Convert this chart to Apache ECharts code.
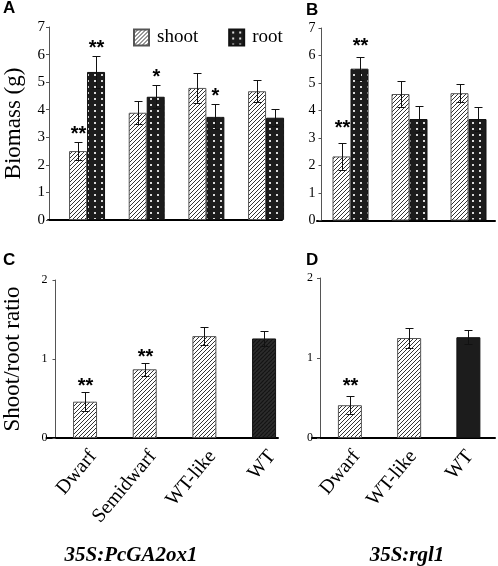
<!DOCTYPE html>
<html><head><meta charset="utf-8">
<script src="https://cdn.jsdelivr.net/npm/echarts@6/dist/echarts.min.js"></script>
<style>html,body{margin:0;padding:0;background:#fff}#c{width:498px;height:566px}</style>
</head><body><div id="c"></div>
<script>
// ---- data ----
const biomassTicks = [0, 1, 2, 3, 4, 5, 6, 7];
const ratioTicks = [0, 1, 2];

const categoriesA = ['Dwarf', 'Semidwarf', 'WT-like', 'WT'];
const shootA = [2.50, 3.89, 4.79, 4.67];
const shootAErr = [0.32, 0.42, 0.55, 0.40];
const rootA = [5.37, 4.47, 3.74, 3.71];
const rootAErr = [0.57, 0.41, 0.45, 0.30];
const sigShootA = ['**', '', '', ''];
const sigRootA = ['**', '*', '*', ''];

const categoriesB = ['Dwarf', 'WT-like', 'WT'];
const shootB = [2.33, 4.60, 4.63];
const shootBErr = [0.50, 0.47, 0.33];
const rootB = [5.52, 3.69, 3.69];
const rootBErr = [0.42, 0.46, 0.43];
const sigShootB = ['**', '', ''];
const sigRootB = ['**', '', ''];

const categoriesC = ['Dwarf', 'Semidwarf', 'WT-like', 'WT'];
const ratioC = [0.46, 0.87, 1.29, 1.26];
const ratioCErr = [0.12, 0.085, 0.11, 0.09];
const sigC = ['**', '**', '', ''];

const categoriesD = ['Dwarf', 'WT-like', 'WT'];
const ratioD = [0.41, 1.25, 1.26];
const ratioDErr = [0.11, 0.12, 0.09];
const sigD = ['**', '', ''];

const groupLabels = ['35S:PcGA2ox1', '35S:rgl1'];

// ---- patterns ----
function hatch(bg, fg, s, lw) {
  const c = document.createElement('canvas'); c.width = c.height = s;
  const g = c.getContext('2d');
  g.fillStyle = bg; g.fillRect(0, 0, s, s);
  g.strokeStyle = fg; g.lineWidth = lw; g.beginPath();
  for (const k of [-s, 0, s]) { g.moveTo(k, s); g.lineTo(k + s, 0); }
  g.stroke();
  return { image: c, repeat: 'repeat' };
}
function dots() {
  const c = document.createElement('canvas'); c.width = 7; c.height = 6;
  const g = c.getContext('2d');
  g.fillStyle = '#1c1c1c'; g.fillRect(0, 0, 7, 6);
  g.fillStyle = '#d8d8d8'; g.fillRect(3, 2, 2, 2);
  return { image: c, repeat: 'repeat' };
}
const shootFill = hatch('#ffffff', '#333333', 4, 1);
const rootFill = dots();
const wtHatch = hatch('#2c2c2c', '#141414', 4, 1.2);

const serif = '"Liberation Serif", "Times New Roman", serif';
const sans = '"Liberation Sans", Arial, sans-serif';

// ---- layout ----
// frame grids: x-axis line extent; yShift places the y axis inside it
const frames = [
  { left: 48, top: 27, width: 234, height: 193, yShift: 1 },        // A
  { left: 317, top: 28, width: 178, height: 192.5, yShift: 4.5 },   // B
  { left: 45, top: 280, width: 233, height: 158, yShift: 9 },       // C
  { left: 312, top: 278, width: 183, height: 160, yShift: 8 }       // D
];
const dataGrids = [
  { left: 57.2, top: 27, width: 238.7, height: 193 },
  { left: 321, top: 28, width: 186, height: 192.5 },
  { left: 55.2, top: 280, width: 238.7, height: 158 },
  { left: 320.3, top: 278, width: 179, height: 160 }
];
const labelShift = 8;

const grids = [], xAxes = [], yAxes = [];
const tickSets = [biomassTicks, biomassTicks, ratioTicks, ratioTicks];
const cats = [categoriesA, categoriesB, categoriesC, categoriesD];
const labelFont = [15, 14, 12, 12];
const labelMargin = [4, 6, 8, 7];
for (let p = 0; p < 4; p++) {
  const t = tickSets[p];
  const f = frames[p];
  grids.push({ left: f.left, top: f.top, width: f.width, height: f.height });
  grids.push(dataGrids[p]);
  const gi = p * 2;
  xAxes.push({ type: 'value', gridIndex: gi, min: 0, max: 1,
    axisLine: { show: true, lineStyle: { color: '#000', width: 2 } },
    axisTick: { show: false }, axisLabel: { show: false }, splitLine: { show: false } });
  xAxes.push({ type: 'category', gridIndex: gi + 1, data: cats[p],
    axisLine: { show: false }, axisTick: { show: false }, splitLine: { show: false },
    axisLabel: { show: false } });
  const yFrame = { type: 'value', gridIndex: gi, offset: -f.yShift,
    min: t[0], max: t[t.length - 1], interval: t[1] - t[0],
    axisLine: { show: true, onZero: false, lineStyle: { color: '#555', width: 1 } },
    axisTick: { show: true, length: 3, lineStyle: { color: '#555' } },
    splitLine: { show: false },
    axisLabel: { fontFamily: serif, fontSize: labelFont[p], color: '#000', margin: labelMargin[p] } };
  if (p === 0) Object.assign(yFrame, { name: 'Biomass (g)', nameLocation: 'middle', nameRotate: 90, nameGap: 23.5,
    nameTextStyle: { fontFamily: serif, fontSize: 23, color: '#000' } });
  if (p === 2) Object.assign(yFrame, { name: 'Shoot/root ratio', nameLocation: 'middle', nameRotate: 90, nameGap: 31.5,
    nameTextStyle: { fontFamily: serif, fontSize: 23, color: '#000' } });
  yAxes.push(yFrame);
  yAxes.push({ type: 'value', gridIndex: gi + 1, min: t[0], max: t[t.length - 1], show: false, splitLine: { show: false } });
}
// label-only axes for the category names under C and D
[2, 3].forEach(p => {
  const g = dataGrids[p];
  grids.push({ left: g.left + labelShift, top: g.top, width: g.width, height: g.height });
  const gi = grids.length - 1;
  xAxes.push({ type: 'category', gridIndex: gi, data: cats[p],
    axisLine: { show: false }, axisTick: { show: false }, splitLine: { show: false },
    axisLabel: { show: true, rotate: 50, interval: 0, margin: 15, fontFamily: serif, fontSize: 20, color: '#000' } });
  yAxes.push({ type: 'value', gridIndex: gi, min: 0, max: 1, show: false, splitLine: { show: false } });
});

function errSeries(ai, vals, errs, sigs, dx, starDy) {
  return {
    type: 'custom', xAxisIndex: ai, yAxisIndex: ai, z: 5, silent: true,
    data: vals.map((v, i) => [i, v, errs[i]]),
    renderItem(params, api) {
      const i = api.value(0), v = api.value(1), e = api.value(2);
      const top = api.coord([i, v + e]);
      const bot = api.coord([i, v - e]);
      const x = Math.round(top[0] + dx) + 0.5;
      const yt = Math.round(top[1]) + 0.5, yb = Math.round(bot[1]) + 0.5;
      const st = { stroke: '#111', lineWidth: 1 };
      const children = [
        { type: 'line', shape: { x1: x, y1: yt, x2: x, y2: yb }, style: st },
        { type: 'line', shape: { x1: x - 4, y1: yt, x2: x + 4, y2: yt }, style: st },
        { type: 'line', shape: { x1: x - 4, y1: yb, x2: x + 4, y2: yb }, style: st }
      ];
      const s = sigs[params.dataIndex];
      if (s) children.push({ type: 'text', style: { text: s, x: x, y: yt + starDy, align: 'center',
        verticalAlign: 'bottom', font: 'bold 20px ' + sans, fill: '#000' } });
      return { type: 'group', children };
    }
  };
}

const shootStyle = { color: shootFill, borderColor: '#555', borderWidth: 1 };
const rootStyle = { color: rootFill, borderColor: '#111', borderWidth: 1 };

const series = [
  { name: 'shoot', type: 'bar', xAxisIndex: 1, yAxisIndex: 1, data: shootA, barWidth: 18, barGap: '0%', itemStyle: shootStyle },
  { name: 'root', type: 'bar', xAxisIndex: 1, yAxisIndex: 1, data: rootA, barWidth: 18, barGap: '0%', itemStyle: rootStyle },
  errSeries(1, shootA, shootAErr, sigShootA, -9, 2),
  errSeries(1, rootA, rootAErr, sigRootA, 9, 2),
  { name: 'shoot', type: 'bar', xAxisIndex: 3, yAxisIndex: 3, data: shootB, barWidth: 18, barGap: '0%', itemStyle: shootStyle },
  { name: 'root', type: 'bar', xAxisIndex: 3, yAxisIndex: 3, data: rootB, barWidth: 18, barGap: '0%', itemStyle: rootStyle },
  errSeries(3, shootB, shootBErr, sigShootB, -9, -5),
  errSeries(3, rootB, rootBErr, sigRootB, 9, -1),
  { name: 'ratioC', type: 'bar', xAxisIndex: 5, yAxisIndex: 5, barWidth: 24, itemStyle: shootStyle,
    data: ratioC.map((v, i) => categoriesC[i] === 'WT' ? { value: v, itemStyle: { color: wtHatch, borderColor: '#111' } } : v) },
  errSeries(5, ratioC, ratioCErr, sigC, 0, 4),
  { name: 'ratioD', type: 'bar', xAxisIndex: 7, yAxisIndex: 7, barWidth: 24, itemStyle: shootStyle,
    data: ratioD.map((v, i) => categoriesD[i] === 'WT' ? { value: v, itemStyle: { color: '#1c1c1c', borderColor: '#111' } } : v) },
  errSeries(7, ratioD, ratioDErr, sigD, 0, 0)
];

const letter = (t, l, tp) => ({ text: t, left: l, top: tp, padding: 0,
  textStyle: { fontFamily: sans, fontWeight: 'bold', fontSize: 17, color: '#000' } });

const chart = echarts.init(document.getElementById('c'), null, { renderer: 'canvas' });
chart.setOption({
  animation: false,
  backgroundColor: '#fff',
  title: [letter('A', 3, 0), letter('B', 306, 2), letter('C', 3, 252), letter('D', 306, 252)],
  legend: { data: ['shoot', 'root'], left: 133, top: 28, itemWidth: 15, itemHeight: 16, itemGap: 30,
    icon: 'rect', padding: 0, selectedMode: false,
    textStyle: { fontFamily: serif, fontSize: 19, color: '#000', padding: [0, 0, 0, 3] } },
  grid: grids, xAxis: xAxes, yAxis: yAxes, series,
  graphic: [
    { type: 'text', x: 131, y: 556, style: { text: groupLabels[0], font: 'italic bold 21px ' + serif, align: 'center', verticalAlign: 'middle', fill: '#000' } },
    { type: 'text', x: 407, y: 556, style: { text: groupLabels[1], font: 'italic bold 21px ' + serif, align: 'center', verticalAlign: 'middle', fill: '#000' } }
  ]
});
</script></body></html>
